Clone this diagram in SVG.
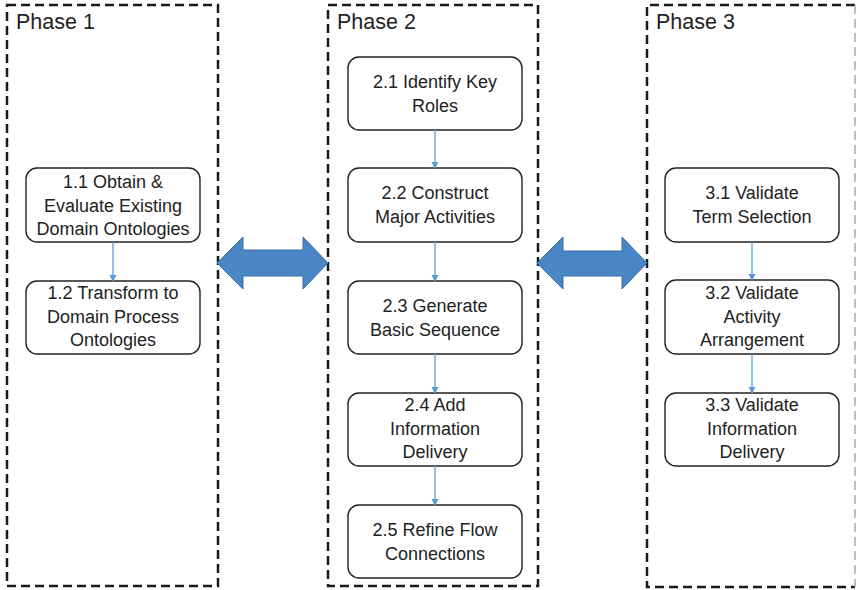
<svg xmlns="http://www.w3.org/2000/svg" width="857" height="590" viewBox="0 0 857 590">
<style>
.phase{fill:none;stroke:#1a1a1a;stroke-width:2.5;stroke-dasharray:9 5}
.phase3r{fill:none;stroke:#aaaaaa;stroke-width:1.5;stroke-dasharray:9 5}
.ptitle{font-family:"Liberation Sans",Arial,sans-serif;font-size:21.5px;fill:#222}
.box{fill:#fff;stroke:#222;stroke-width:1.4}
.lbl{font-family:"Liberation Sans",Arial,sans-serif;font-size:18px;fill:#222;text-anchor:middle}
.conn{stroke:#5B9BD5;stroke-width:1.3;fill:none;marker-end:url(#ah)}
.big{fill:#4A86C5;stroke:#3A6EA5;stroke-width:1}
</style>
<defs>
<marker id="ah" markerWidth="8" markerHeight="8" refX="6" refY="4" orient="auto" markerUnits="userSpaceOnUse">
<path d="M0,0.5 L7,4 L0,7.5 Z" fill="#5B9BD5"/>
</marker>
</defs>
<rect width="857" height="590" fill="#fff"/>
<g id="phase1">
<rect class="phase" x="7" y="5" width="211" height="581"/>
<text class="ptitle" x="16" y="29">Phase 1</text>
</g>
<g id="phase2">
<rect class="phase" x="328" y="5" width="210" height="581"/>
<text class="ptitle" x="337" y="29">Phase 2</text>
</g>
<g id="phase3">
<path class="phase" d="M855,5 L647,5 L647,587 L855,587"/>
<path class="phase3r" d="M855,5 L855,587"/>
<text class="ptitle" x="656" y="29">Phase 3</text>
</g>
<g id="n11">
<rect class="box" x="26" y="168" width="174" height="74" rx="11"/>
<text class="lbl" x="113" y="188">1.1 Obtain &amp;</text>
<text class="lbl" x="113" y="211.5">Evaluate Existing</text>
<text class="lbl" x="113" y="235">Domain Ontologies</text>
</g>
<g id="n12">
<rect class="box" x="26" y="281" width="174" height="73" rx="11"/>
<text class="lbl" x="113" y="299">1.2 Transform to</text>
<text class="lbl" x="113" y="322.5">Domain Process</text>
<text class="lbl" x="113" y="346">Ontologies</text>
</g>
<g id="n21">
<rect class="box" x="348" y="57" width="174" height="73" rx="11"/>
<text class="lbl" x="435" y="88">2.1 Identify Key</text>
<text class="lbl" x="435" y="111.5">Roles</text>
</g>
<g id="n22">
<rect class="box" x="348" y="168" width="174" height="74" rx="11"/>
<text class="lbl" x="435" y="199">2.2 Construct</text>
<text class="lbl" x="435" y="222.5">Major Activities</text>
</g>
<g id="n23">
<rect class="box" x="348" y="281" width="174" height="73" rx="11"/>
<text class="lbl" x="435" y="312">2.3 Generate</text>
<text class="lbl" x="435" y="335.5">Basic Sequence</text>
</g>
<g id="n24">
<rect class="box" x="348" y="393" width="174" height="73" rx="11"/>
<text class="lbl" x="435" y="411">2.4 Add</text>
<text class="lbl" x="435" y="434.5">Information</text>
<text class="lbl" x="435" y="458">Delivery</text>
</g>
<g id="n25">
<rect class="box" x="348" y="505" width="174" height="73" rx="11"/>
<text class="lbl" x="435" y="536">2.5 Refine Flow</text>
<text class="lbl" x="435" y="559.5">Connections</text>
</g>
<g id="n31">
<rect class="box" x="665" y="168" width="174" height="74" rx="11"/>
<text class="lbl" x="752" y="199">3.1 Validate</text>
<text class="lbl" x="752" y="222.5">Term Selection</text>
</g>
<g id="n32">
<rect class="box" x="665" y="280" width="174" height="74" rx="11"/>
<text class="lbl" x="752" y="299">3.2 Validate</text>
<text class="lbl" x="752" y="322.5">Activity</text>
<text class="lbl" x="752" y="346">Arrangement</text>
</g>
<g id="n33">
<rect class="box" x="665" y="393" width="174" height="73" rx="11"/>
<text class="lbl" x="752" y="411">3.3 Validate</text>
<text class="lbl" x="752" y="434.5">Information</text>
<text class="lbl" x="752" y="458">Delivery</text>
</g>
<g id="connectors">
<line class="conn" x1="113" y1="242" x2="113" y2="281"/>
<line class="conn" x1="435" y1="130" x2="435" y2="168"/>
<line class="conn" x1="435" y1="242" x2="435" y2="281"/>
<line class="conn" x1="435" y1="354" x2="435" y2="393"/>
<line class="conn" x1="435" y1="466" x2="435" y2="505"/>
<line class="conn" x1="752" y1="242" x2="752" y2="280"/>
<line class="conn" x1="752" y1="354" x2="752" y2="393"/>
<path id="dbl1" class="big" d="M217,263 L243,237 L243,250 L303,250 L303,237 L328,263 L303,289 L303,276 L243,276 L243,289 Z"/>
<path id="dbl2" class="big" d="M537,263 L563,237 L563,251 L622,251 L622,237 L647,263 L622,289 L622,276 L563,276 L563,289 Z"/>
</g>
</svg>
